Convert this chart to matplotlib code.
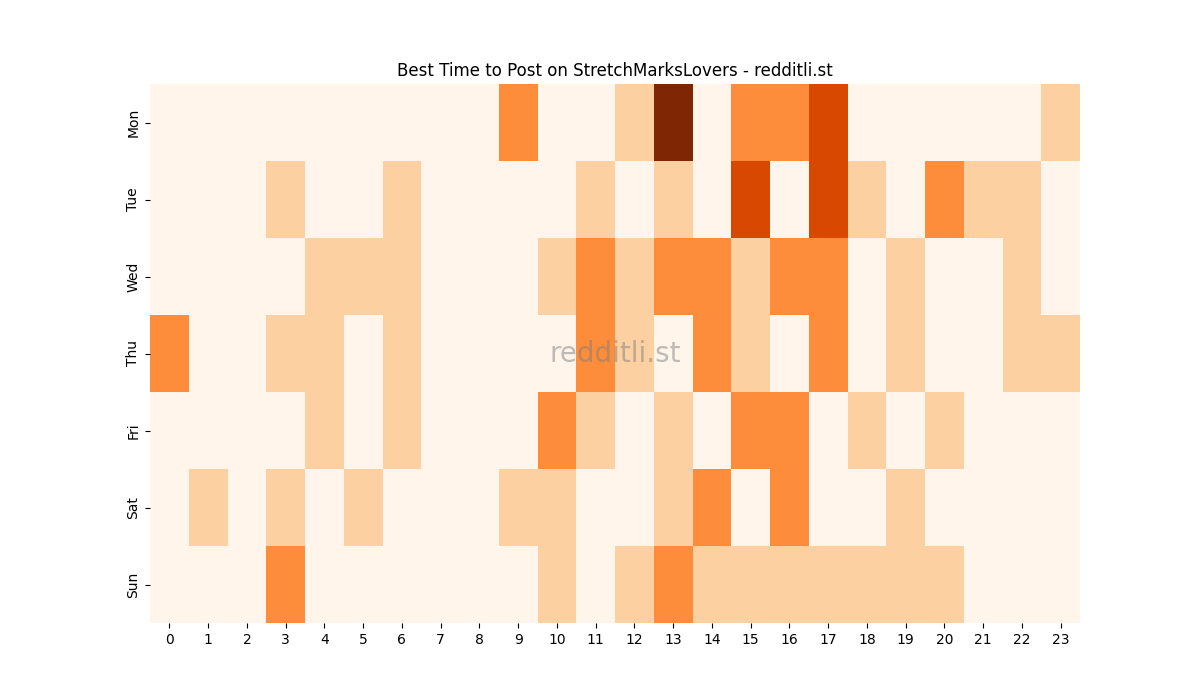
import matplotlib
matplotlib.use("Agg")
import matplotlib.pyplot as plt
import seaborn as sns
import numpy as np

days = ["Mon", "Tue", "Wed", "Thu", "Fri", "Sat", "Sun"]
hours = list(range(24))

mon = [0,0,0,0,0,0,0,0,0,2,0,0,1,4,0,2,2,3,0,0,0,0,0,1]
tue = [0,0,0,1,0,0,1,0,0,0,0,1,0,1,0,3,0,3,1,0,2,1,1,0]
wed = [0,0,0,0,1,1,1,0,0,0,1,2,1,2,2,1,2,2,0,1,0,0,1,0]
thu = [2,0,0,1,1,0,1,0,0,0,0,2,1,0,2,1,0,2,0,1,0,0,1,1]
fri = [0,0,0,0,1,0,1,0,0,0,2,1,0,1,0,2,2,0,1,0,1,0,0,0]
sat = [0,1,0,1,0,1,0,0,0,1,1,0,0,1,2,0,2,0,0,1,0,0,0,0]
sun = [0,0,0,2,0,0,0,0,0,0,1,0,1,2,1,1,1,1,1,1,1,0,0,0]

data = np.array([mon, tue, wed, thu, fri, sat, sun])

fig, ax = plt.subplots(figsize=(12, 7), dpi=100)
sns.heatmap(data, cmap="Oranges", cbar=False, ax=ax,
            xticklabels=hours, yticklabels=days)
ax.set_title("Best Time to Post on StretchMarksLovers - redditli.st")
ax.text(0.5, 0.5, "redditli.st", transform=ax.transAxes, ha="center",
        va="center", fontsize=20, color="gray", alpha=0.5)
fig.savefig("out.png")
